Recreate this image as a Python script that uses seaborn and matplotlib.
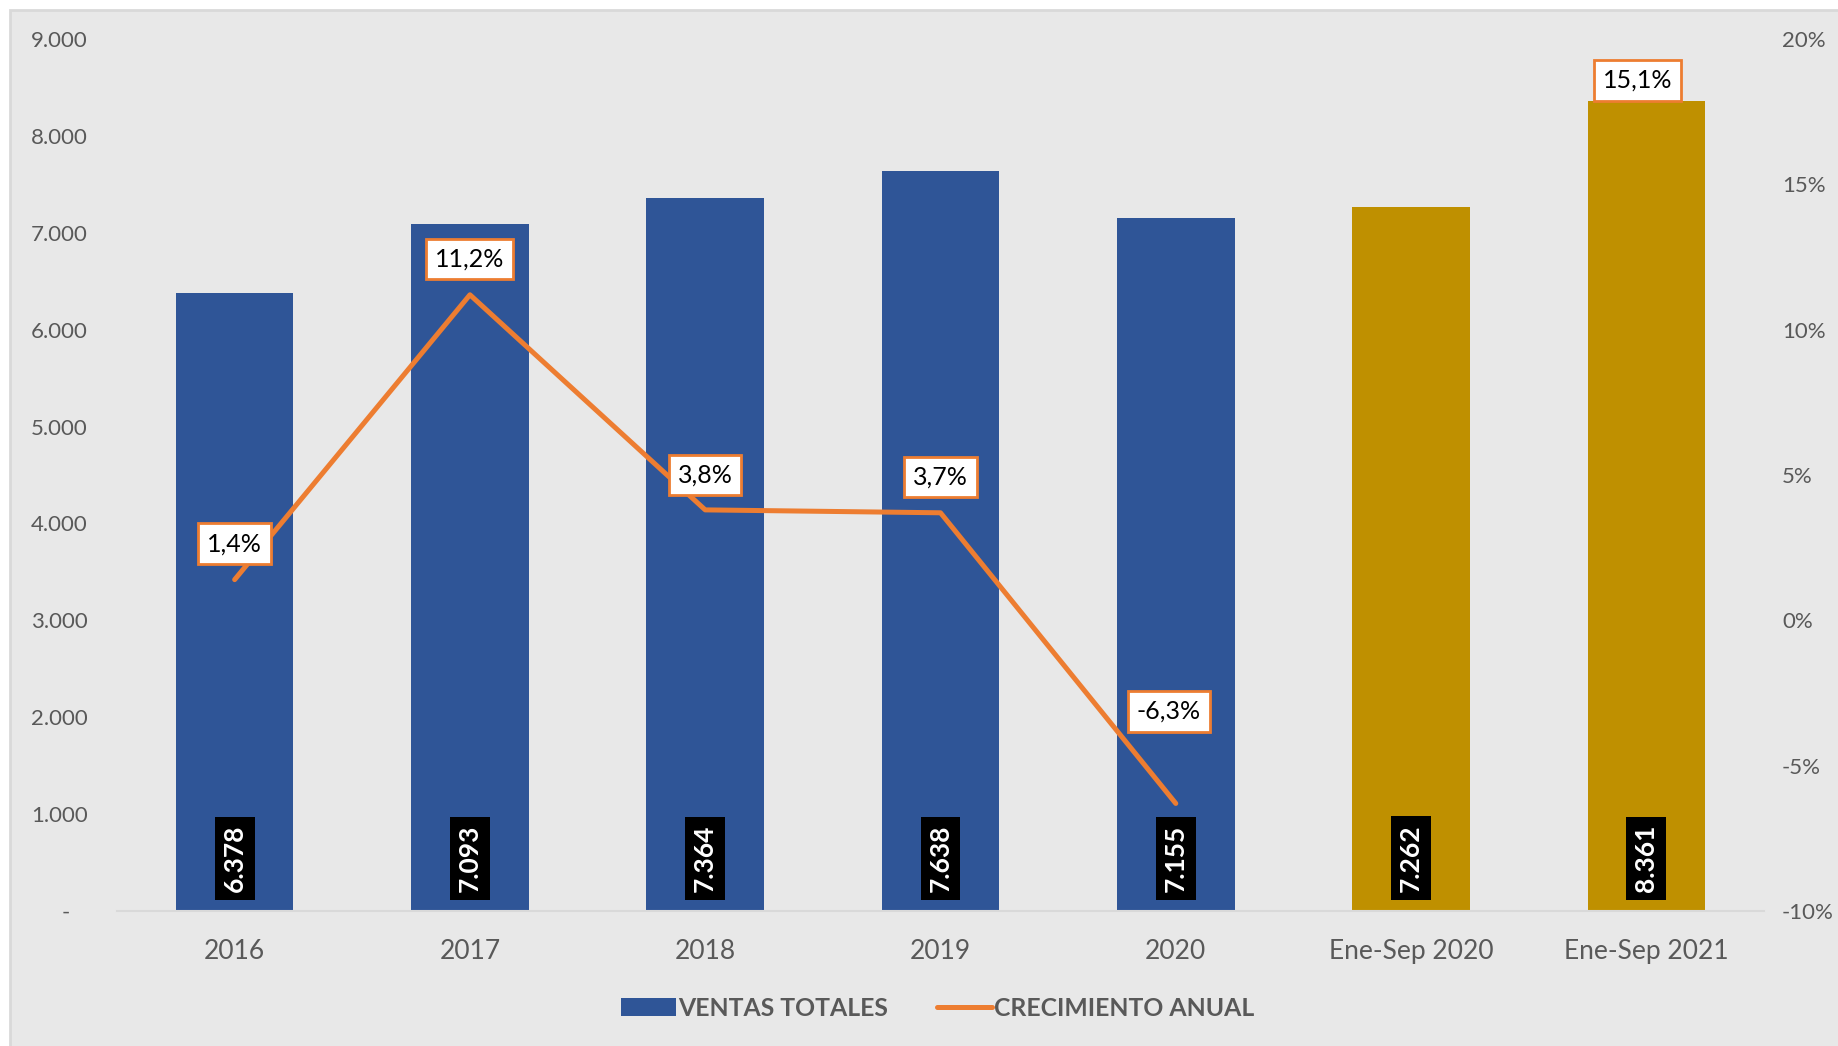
import matplotlib
matplotlib.use("Agg")
import matplotlib.pyplot as plt
from matplotlib.patches import Rectangle, Patch
from matplotlib.lines import Line2D
from matplotlib.ticker import FixedLocator, FuncFormatter
import seaborn as sns
import numpy as np
import pandas as pd

# ---- data ----
categorias = ["2016", "2017", "2018", "2019", "2020", "Ene-Sep 2020", "Ene-Sep 2021"]
ventas = [6378, 7093, 7364, 7638, 7155, 7262, 8361]
crecimiento_cats = ["2016", "2017", "2018", "2019", "2020"]
crecimiento = [1.4, 11.2, 3.8, 3.7, -6.3]
crec_2021 = 15.1
left_ticks = [0, 1000, 2000, 3000, 4000, 5000, 6000, 7000, 8000, 9000]
right_ticks = [-10, -5, 0, 5, 10, 15, 20]

# ---- style ----
BLUE = "#2F5597"
GOLD = "#BF9000"
ORANGE = "#ED7D31"
BG = "#E8E8E8"
GRAY_TXT = "#595959"
bar_colors = [BLUE] * 5 + [GOLD] * 2
label_offsets_px = [(0, 36), (0, 36), (0, 35), (0, 36), (-7, 92)]

sns.set_theme(style="white")
plt.rcParams["font.family"] = ["Lato", "DejaVu Sans"]

fig = plt.figure(figsize=(18.38, 10.46), dpi=100)
fig.patch.set_facecolor("white")
fig.patches.append(Rectangle((10 / 1838, -0.01), 1.02, 1 - 10 / 1046 + 0.01,
                             transform=fig.transFigure, facecolor=BG,
                             edgecolor="#D9D9D9", linewidth=2, zorder=-10))

ax = fig.add_axes([117 / 1838, 1 - 911 / 1046, (1764 - 117) / 1838, (911 - 39) / 1046])
ax.set_facecolor("none")

df = pd.DataFrame({"cat": categorias, "ventas": ventas})
sns.barplot(data=df, x="cat", y="ventas", hue="cat", palette=bar_colors,
            order=categorias, width=0.5, legend=False, ax=ax, saturation=1,
            edgecolor="none", linewidth=0)

ax.set_ylim(0, 9000)
ax.set_xlim(-0.5, len(categorias) - 0.5)
ax.yaxis.set_major_locator(FixedLocator(left_ticks))
ax.yaxis.set_major_formatter(FuncFormatter(
    lambda v, p: "-   " if v == 0 else f"{int(v):,}".replace(",", ".")))
ax.set_xlabel("")
ax.set_ylabel("")
for s in ["top", "right", "left"]:
    ax.spines[s].set_visible(False)
ax.spines["bottom"].set_color("#D9D9D9")
ax.spines["bottom"].set_linewidth(1.5)
ax.tick_params(axis="y", labelsize=16, labelcolor=GRAY_TXT, length=0, pad=21)
ax.tick_params(axis="x", labelsize=19, labelcolor=GRAY_TXT, length=0, pad=20)
ax.grid(False)

# bar value labels
for i, v in enumerate(ventas):
    ax.text(i, 545, f"{v:,}".replace(",", "."), rotation=90, ha="center", va="center",
            color="white", fontsize=19, fontweight="bold",
            bbox=dict(boxstyle="square,pad=0.3", facecolor="black", edgecolor="none"))

# growth line
ax2 = ax.twinx()
ax2.set_ylim(-10, 20)
xs = [categorias.index(c) for c in crecimiento_cats]
sns.lineplot(x=xs, y=crecimiento, color=ORANGE, linewidth=3.6, ax=ax2,
             solid_capstyle="round", solid_joinstyle="round", legend=False)
ax2.set_xlim(-0.5, len(categorias) - 0.5)
ax2.yaxis.set_major_locator(FixedLocator(right_ticks))
ax2.yaxis.set_major_formatter(FuncFormatter(lambda v, p: f"{int(v)}%"))
ax2.tick_params(axis="y", labelsize=16, labelcolor=GRAY_TXT, length=0, pad=13)
ax2.set_ylabel("")
for s in ["top", "right", "left", "bottom"]:
    ax2.spines[s].set_visible(False)
ax2.grid(False)

box = dict(boxstyle="square,pad=0.35", facecolor="white", edgecolor=ORANGE, linewidth=2)
for x, y, off in zip(xs, crecimiento, label_offsets_px):
    ax2.annotate(f"{y:.1f}%".replace(".", ","), (x, y), xytext=off,
                 textcoords="offset pixels", ha="center", va="center",
                 fontsize=18, color="black", bbox=box)
ax2.annotate(f"{crec_2021:.1f}%".replace(".", ","), (categorias.index("Ene-Sep 2021"), crec_2021),
             xytext=(-9, 101), textcoords="offset pixels", ha="center", va="center",
             fontsize=18, color="black", bbox=box)

# legend
handles = [Patch(facecolor=BLUE, edgecolor="none"),
           Line2D([0], [0], color=ORANGE, linewidth=3.6, solid_capstyle="round")]
leg = fig.legend(handles, ["VENTAS TOTALES", "CRECIMIENTO ANUAL"],
                 loc="center", bbox_to_anchor=(0.5103, 1 - 1008 / 1046), ncol=2,
                 frameon=False, handlelength=2.2, handletextpad=0.1,
                 columnspacing=2.0, prop={"weight": "bold", "size": 17.8})
for t in leg.get_texts():
    t.set_color(GRAY_TXT)

fig.savefig("out.png", dpi=100, facecolor=fig.get_facecolor())
